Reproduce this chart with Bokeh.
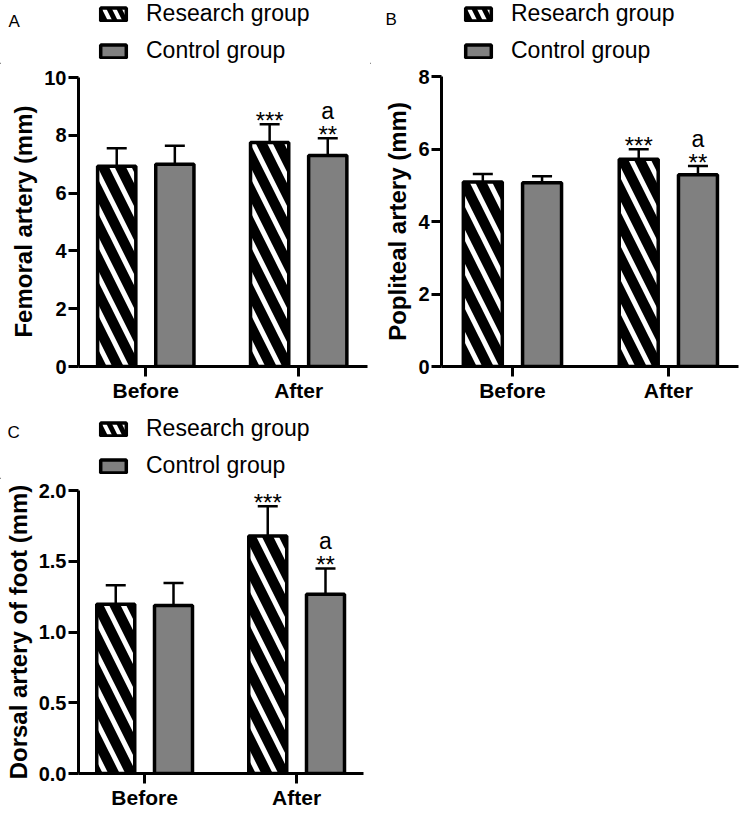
from bokeh.plotting import figure
from bokeh.models import (Range1d, FixedTicker, Whisker, TeeHead, ColumnDataSource,
                          Legend, LegendItem, Label, PrintfTickFormatter)
from bokeh.layouts import column, row
from bokeh.embed import file_html
from bokeh.resources import INLINE
from bokeh.core.properties import value

# ---------------- data ----------------
categories = ["Before", "After"]
groups = ["Research group", "Control group"]

femoral_research = [6.93, 7.75]
femoral_research_sd = [0.62, 0.63]
femoral_control = [7.00, 7.30]
femoral_control_sd = [0.64, 0.60]

popliteal_research = [5.09, 5.72]
popliteal_research_sd = [0.22, 0.27]
popliteal_control = [5.07, 5.29]
popliteal_control_sd = [0.18, 0.24]

dorsal_research = [1.196, 1.679]
dorsal_research_sd = [0.135, 0.21]
dorsal_control = [1.187, 1.266]
dorsal_control_sd = [0.16, 0.183]

research_marks = ["", "***"]
control_marks = ["", "**"]
control_letters = ["", "a"]

femoral_ticks = [0, 2, 4, 6, 8, 10]
popliteal_ticks = [0, 2, 4, 6, 8]
dorsal_ticks = [0.0, 0.5, 1.0, 1.5, 2.0]

FONT = "Liberation Sans"
GRAY = "#808080"
OFFSET = 0.19
BAR_W = 0.25

RESEARCH_STYLE = dict(fill_color="black", line_color="black",
                      hatch_pattern="left_diagonal_line", hatch_color="white")
CONTROL_STYLE = dict(fill_color=GRAY, line_color="black")


def make_header(letter, width, height, letter_xy, legend_xy):
    h = figure(width=width, height=height, output_backend="svg", toolbar_location=None,
               x_range=Range1d(0, 1), y_range=Range1d(0, 1), min_border=0,
               x_axis_type=None, y_axis_type=None)
    h.outline_line_color = None
    # legend swatches only: one zero-height sample outside the visible range
    swatch = ColumnDataSource(dict(x=[-1.0], top=[0.0]))
    r = h.vbar(x="x", top="top", width=0.1, source=swatch, line_width=3.5,
               hatch_scale=20, hatch_weight=4, **RESEARCH_STYLE)
    c = h.vbar(x="x", top="top", width=0.1, source=swatch, line_width=3.5,
               **CONTROL_STYLE)
    legend = Legend(items=[LegendItem(label=groups[0], renderers=[r]),
                           LegendItem(label=groups[1], renderers=[c])],
                    location=legend_xy, label_text_font=FONT, label_text_font_size="23px",
                    label_text_color="black", glyph_width=32, glyph_height=16,
                    label_height=22, label_standoff=17, spacing=10, padding=0, margin=0,
                    border_line_color=None, background_fill_alpha=0)
    h.add_layout(legend)
    h.add_layout(Label(x=letter_xy[0], y=letter_xy[1], x_units="screen", y_units="screen",
                       text=letter, text_font=FONT, text_font_size="17px",
                       text_baseline="alphabetic", text_color="black"))
    return h


def make_panel(ylabel, research, research_sd, control, control_sd, ticks, fmt,
               xr, ytop, width, height, borders):
    left, right, top, bottom = borders
    p = figure(width=width, height=height, output_backend="svg", toolbar_location=None,
               x_range=Range1d(*xr), y_range=Range1d(ticks[0], ytop),
               min_border_left=left, min_border_right=right,
               min_border_top=top, min_border_bottom=bottom)
    p.xgrid.visible = False
    p.ygrid.visible = False
    p.outline_line_color = None

    idx = list(range(len(categories)))
    xs_r = [i - OFFSET for i in idx]
    xs_c = [i + OFFSET for i in idx]
    src_r = ColumnDataSource(dict(x=xs_r, top=research,
                                  upper=[m + s for m, s in zip(research, research_sd)],
                                  mark=research_marks))
    src_c = ColumnDataSource(dict(x=xs_c, top=control,
                                  upper=[m + s for m, s in zip(control, control_sd)],
                                  mark=control_marks, letter=control_letters))

    for src in (src_r, src_c):
        w = Whisker(base="x", upper="upper", lower="top", source=src, dimension="height",
                    line_color="black", line_width=2.5,
                    upper_head=TeeHead(size=20, line_width=2.5, line_color="black"),
                    lower_head=None, level="underlay")
        p.add_layout(w)

    p.vbar(x="x", top="top", bottom=0, width=BAR_W, source=src_r, line_width=3.5,
           hatch_scale=34, hatch_weight=5, **RESEARCH_STYLE)
    p.vbar(x="x", top="top", bottom=0, width=BAR_W, source=src_c, line_width=3.5,
           **CONTROL_STYLE)

    for src in (src_r, src_c):
        p.text(x="x", y="upper", text="mark", source=src, text_align="center",
               text_baseline="alphabetic", y_offset=-4, text_font=value(FONT),
               text_font_size="24px", text_color="black")
    p.text(x="x", y="upper", text="letter", source=src_c, text_align="center",
           text_baseline="alphabetic", y_offset=-27, text_font=value(FONT),
           text_font_size="23px", text_color="black")

    for ax in (p.xaxis, p.yaxis):
        ax.axis_line_width = 3
        ax.axis_line_color = "black"
        ax.major_tick_line_width = 3
        ax.major_tick_line_color = "black"
        ax.major_tick_out = 10
        ax.major_tick_in = 0
        ax.minor_tick_line_color = None
        ax.major_label_text_font = FONT
        ax.major_label_text_font_style = "bold"
        ax.major_label_text_color = "black"
        ax.major_label_standoff = 2
    p.yaxis.ticker = FixedTicker(ticks=ticks)
    p.yaxis.bounds = (ticks[0], ticks[-1])
    p.yaxis.major_label_text_font_size = "20px"
    if fmt:
        p.yaxis.formatter = PrintfTickFormatter(format=fmt)
    p.yaxis.axis_label = ylabel
    p.yaxis.axis_label_text_font = FONT
    p.yaxis.axis_label_text_font_style = "bold"
    p.yaxis.axis_label_text_font_size = "24px"
    p.yaxis.axis_label_text_color = "black"
    p.yaxis.axis_label_standoff = 4

    p.xaxis.ticker = FixedTicker(ticks=idx)
    p.xaxis.major_label_overrides = {i: c for i, c in enumerate(categories)}
    p.xaxis.major_label_text_font_size = "21px"
    return p


hA = make_header("A", 370, 64, (8, 43), (97, 0))
hB = make_header("B", 371, 64, (15, 45), (92, 0))
hC = make_header("C", 370, 75, (7, 47), (97, 0))

# row of A and B shares one frame height (rows align their plot frames)
pA = make_panel("Femoral artery (mm)", femoral_research, femoral_research_sd,
                femoral_control, femoral_control_sd, femoral_ticks, None,
                (-0.44, 1.45), 10.035, 370, 340, (78, 3, 12, 38))
pB = make_panel("Popliteal artery (mm)", popliteal_research, popliteal_research_sd,
                popliteal_control, popliteal_control_sd, popliteal_ticks, None,
                (-0.455, 1.45), 8, 371, 340, (71, 3, 12, 38))
pC = make_panel("Dorsal artery of foot (mm)", dorsal_research, dorsal_research_sd,
                dorsal_control, dorsal_control_sd, dorsal_ticks, "%.1f",
                (-0.435, 1.44), 2.0, 370, 332, (78, 7, 11, 38))

layout = column(row(hA, hB), row(pA, pB), row(hC), row(pC))
open("out.html", "w").write(file_html(layout, INLINE))
